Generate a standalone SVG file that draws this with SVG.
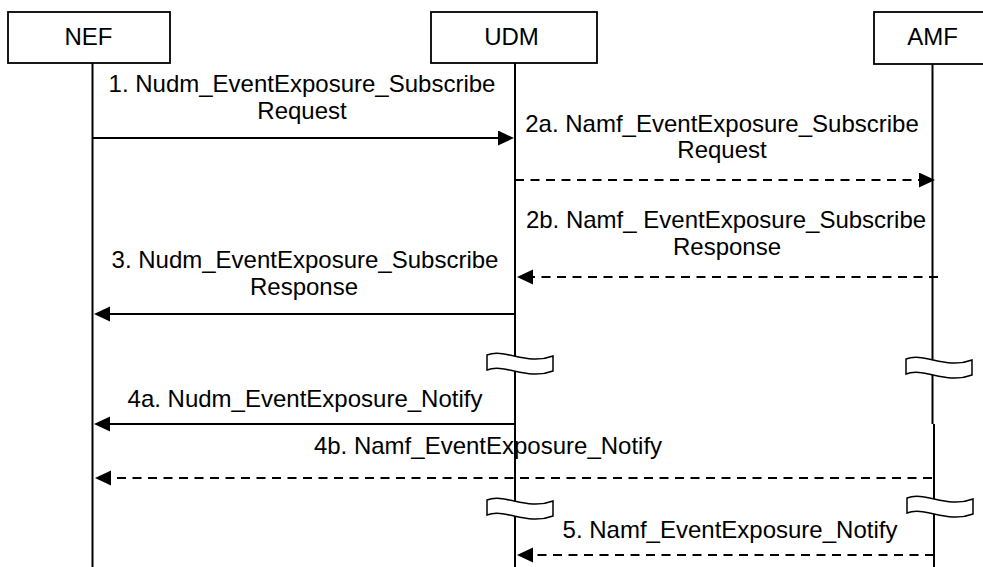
<svg xmlns="http://www.w3.org/2000/svg" xmlns:xlink="http://www.w3.org/1999/xlink" width="983" height="567" viewBox="0 0 983 567">
<style>
.box{fill:#fff;stroke:#000;stroke-width:1.8}
.life{stroke:#000;stroke-width:2;fill:none}
.msg{stroke:#000;stroke-width:2;fill:none}
.dash{stroke-dasharray:9 6.5}
.t{font-family:"Liberation Sans",Arial,Helvetica,sans-serif;font-size:24px;fill:#000}
.c{text-anchor:middle}
.brk{fill:#fff;stroke:#000;stroke-width:1.5}
</style>
<defs>
<marker id="ah" markerUnits="userSpaceOnUse" markerWidth="17" markerHeight="16" refX="8" refY="7.5" orient="auto">
<path d="M0,0 L16,7.5 L0,15 Z" fill="#000"/>
</marker>
<path id="brkshape" d="M0,2 C18,-5 40,13 66,3 L66,18 C40,28 18,10 0,17 Z"/>
</defs>
<rect width="983" height="567" fill="#fff"/>

<g id="NEF">
<rect class="box" x="8" y="12" width="162" height="51"/>
<text class="t c" x="88.5" y="45">NEF</text>
<line class="life" x1="92.5" y1="63" x2="92.5" y2="567"/>
</g>

<g id="UDM">
<rect class="box" x="431" y="12" width="166" height="51"/>
<text class="t c" x="511.5" y="45">UDM</text>
<line class="life" x1="515" y1="63" x2="515" y2="567"/>
<use href="#brkshape" class="brk" x="487" y="353"/>
<use href="#brkshape" class="brk" x="487" y="498"/>
</g>

<g id="AMF">
<rect class="box" x="874" y="12" width="130" height="52"/>
<text class="t c" x="932.5" y="45">AMF</text>
<line class="life" x1="932.5" y1="64" x2="932.5" y2="424"/>
<line class="life" x1="934" y1="424" x2="934" y2="567"/>
<use href="#brkshape" class="brk" x="906" y="357"/>
<use href="#brkshape" class="brk" x="907" y="496"/>
</g>

<g id="connectors">
<line class="msg" x1="92.5" y1="138" x2="506" y2="138" marker-end="url(#ah)"/>
<line class="msg dash" x1="515" y1="180" x2="927" y2="180" marker-end="url(#ah)"/>
<line class="msg dash" x1="938" y1="277" x2="525" y2="277" marker-end="url(#ah)"/>
<line class="msg" x1="515" y1="314" x2="102" y2="314" marker-end="url(#ah)"/>
<line class="msg" x1="515" y1="424" x2="102" y2="424" marker-end="url(#ah)"/>
<line class="msg dash" x1="932" y1="478" x2="103" y2="478" marker-end="url(#ah)"/>
<line class="msg dash" x1="934" y1="555" x2="525" y2="555" marker-end="url(#ah)"/>
</g>

<g id="labels">
<text class="t c" x="302" y="92">1. Nudm_EventExposure_Subscribe</text>
<text class="t c" x="302" y="119">Request</text>
<text class="t c" x="722" y="132">2a. Namf_EventExposure_Subscribe</text>
<text class="t c" x="722" y="158">Request</text>
<text class="t c" x="726" y="228">2b. Namf_ EventExposure_Subscribe</text>
<text class="t c" x="727" y="255">Response</text>
<text class="t c" x="305" y="268">3. Nudm_EventExposure_Subscribe</text>
<text class="t c" x="304" y="295">Response</text>
<text class="t c" x="305" y="407">4a. Nudm_EventExposure_Notify</text>
<text class="t c" x="488" y="454">4b. Namf_EventExposure_Notify</text>
<text class="t c" x="730" y="538">5. Namf_EventExposure_Notify</text>
</g>
</svg>
